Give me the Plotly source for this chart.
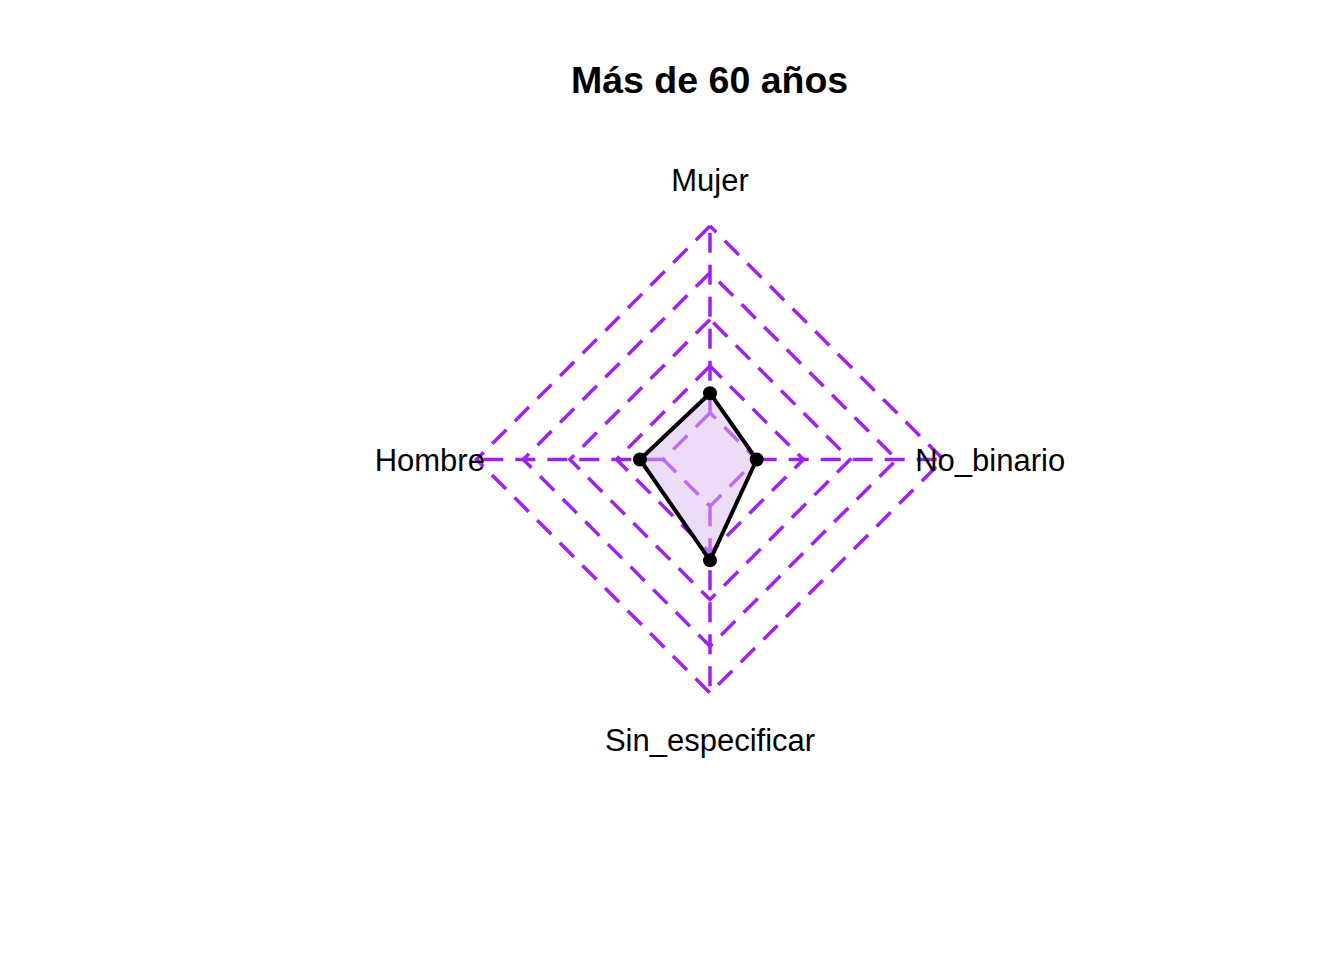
import numpy as np
import plotly.graph_objects as go

# ---- data ----
title_text = "Más de 60 años"
categories = ["Mujer", "Hombre", "Sin_especificar", "No_binario"]
values = [0.105, 0.125, 0.29, 0.0]
v_min, v_max = 0.0, 1.0
n_seg = 4

# ---- styles ----
grid_color = "#A020F0"
fill_color = "rgba(217,185,237,0.5)"
font_family = "Liberation Sans, Arial, sans-serif"

n = len(categories)
ang = np.pi / 2 + 2 * np.pi * np.arange(n) / n  # counter-clockwise from top
cx, cy = np.cos(ang), np.sin(ang)

def to_radius(v):
    frac = (np.asarray(v, dtype=float) - v_min) / (v_max - v_min)
    return (1 + frac * n_seg) / (n_seg + 1)

# page has an 8px body margin; figure is sized to fit inside it
OFF = 8
W, H = 1344 - 2 * OFF, 960 - 2 * OFF
scale = 233.5
cxp, cyp = 710.0 - OFF, 459.5 - OFF

fig = go.Figure()
grid_line = dict(color=grid_color, width=3.5, dash="20px,12px")

# grid polygons
for i in range(n_seg + 1):
    r = (i + 1) / (n_seg + 1)
    xs = list(r * cx) + [r * cx[0]]
    ys = list(r * cy) + [r * cy[0]]
    fig.add_trace(go.Scatter(x=xs, y=ys, mode="lines", line=grid_line,
                             hoverinfo="skip", showlegend=False))

# axis lines
r0 = 1 / (n_seg + 1)
for k in range(n):
    fig.add_trace(go.Scatter(x=[r0 * cx[k], cx[k]], y=[r0 * cy[k], cy[k]], mode="lines",
                             line=grid_line, hoverinfo="skip", showlegend=False))

# data polygon
rd = to_radius(values)
px = list(rd * cx) + [rd[0] * cx[0]]
py = list(rd * cy) + [rd[0] * cy[0]]
fig.add_trace(go.Scatter(x=px, y=py, mode="lines", fill="toself",
                         fillcolor=fill_color,
                         line=dict(color="black", width=4),
                         hoverinfo="skip", showlegend=False))
fig.add_trace(go.Scatter(x=list(rd * cx), y=list(rd * cy), mode="markers",
                         marker=dict(color="black", size=14),
                         text=[f"{c}: {v}" for c, v in zip(categories, values)],
                         hoverinfo="text", showlegend=False))

# labels (small downward nudge to match text baseline placement)
label_dy = -4 / scale
fig.add_trace(go.Scatter(x=list(1.2 * cx), y=list(1.2 * cy + label_dy), mode="text",
                         text=categories, textposition="middle center",
                         textfont=dict(family=font_family, size=31, color="black"),
                         hoverinfo="skip", showlegend=False))

fig.add_annotation(text="<b>" + title_text + "</b>", xref="paper", yref="paper",
                   x=(709 - OFF) / W, y=1 - (80 - OFF) / H, xanchor="center", yanchor="middle",
                   showarrow=False,
                   font=dict(family=font_family, size=37.5, color="black"))

fig.update_layout(
    width=W, height=H,
    margin=dict(l=0, r=0, t=0, b=0),
    paper_bgcolor="white", plot_bgcolor="white",
    xaxis=dict(range=[-cxp / scale, (W - cxp) / scale], visible=False, fixedrange=True),
    yaxis=dict(range=[-(H - cyp) / scale, cyp / scale], visible=False, fixedrange=True),
    showlegend=False,
)

fig.write_html("out.html")
